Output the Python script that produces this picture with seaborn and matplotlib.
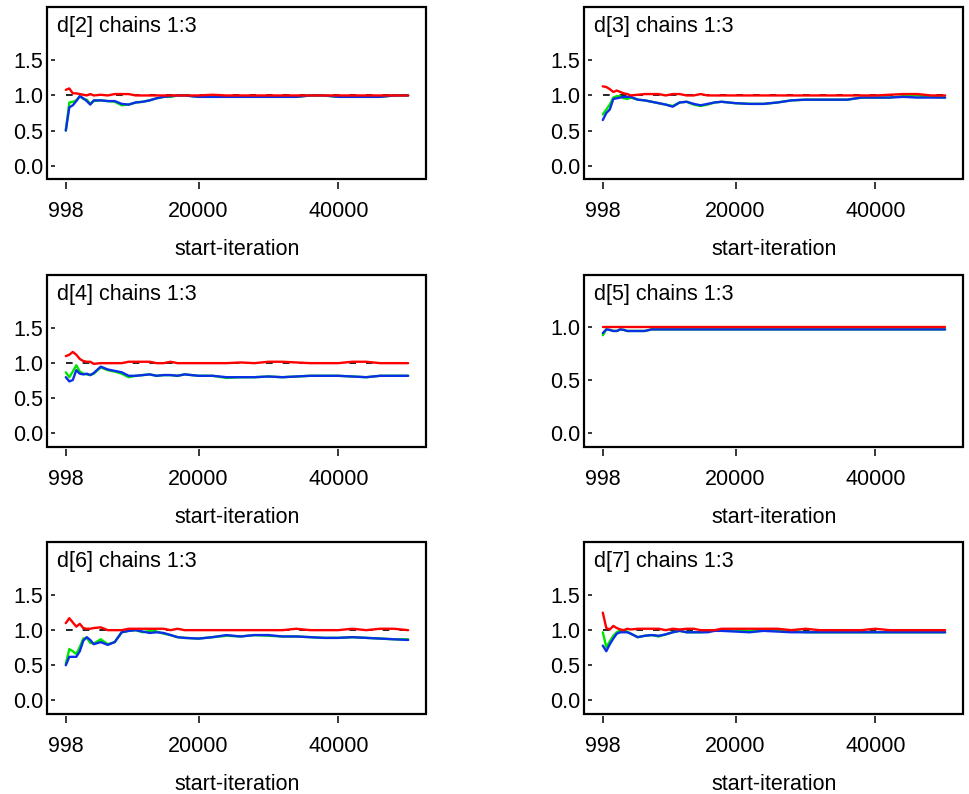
import matplotlib
matplotlib.use("Agg")
import matplotlib.pyplot as plt
import seaborn as sns
import pandas as pd

# ---------------- data ----------------
start_iteration = [998, 1500, 2000, 2500, 3000, 3500, 4000, 4500, 5000,
                   6000, 7000, 8000, 9000, 10000, 11000, 12000, 13000, 14000, 15000, 16000, 17000, 18000,
                   20000, 22000, 24000, 26000, 28000, 30000, 32000, 34000, 36000, 38000, 40000, 42000,
                   44000, 46000, 48000, 50000]

panel_titles = ["d[2] chains 1:3", "d[3] chains 1:3", "d[4] chains 1:3",
                "d[5] chains 1:3", "d[6] chains 1:3", "d[7] chains 1:3"]

x_tick_values = [998, 20000, 40000]
x_tick_labels = ["998", "20000", "40000"]
y_tick_values = [0.0, 0.5, 1.0, 1.5]
y_tick_labels = ["0.0", "0.5", "1.0", "1.5"]
y_tick_values_d5 = [0.0, 0.5, 1.0]
y_tick_labels_d5 = ["0.0", "0.5", "1.0"]

# d[2]
d2_red = [1.08, 1.10, 1.03, 1.03, 1.02, 1.01, 1.00, 1.02, 1.00,
          1.01, 1.00, 1.02, 1.02, 1.02, 1.00, 1.00, 1.00, 1.00, 1.00, 1.00, 1.00, 1.00,
          1.00, 1.01, 1.00, 1.00, 1.00, 1.00, 1.00, 1.00, 1.00, 1.00, 1.00, 1.00, 1.00, 1.00, 1.00, 1.00]
d2_green = [0.50, 0.90, 0.91, 0.93, 0.99, 0.95, 0.94, 0.88, 0.92,
            0.93, 0.92, 0.91, 0.86, 0.87, 0.90, 0.91, 0.93, 0.96, 0.98, 0.98, 1.00, 1.00,
            0.98, 0.98, 0.98, 0.98, 0.98, 0.98, 0.98, 0.98, 1.00, 1.00, 0.98, 0.98, 0.98, 0.98, 1.00, 1.00]
d2_blue = [0.50, 0.83, 0.86, 0.92, 0.99, 0.96, 0.92, 0.87, 0.93,
           0.93, 0.92, 0.92, 0.88, 0.87, 0.90, 0.91, 0.93, 0.96, 0.98, 0.99, 1.00, 1.00,
           0.98, 0.98, 0.98, 0.98, 0.98, 0.98, 0.98, 0.98, 1.00, 1.00, 0.98, 0.98, 0.98, 0.98, 1.00, 1.00]

# d[3]
d3_red = [1.13, 1.12, 1.09, 1.05, 1.07, 1.05, 1.03, 1.02, 1.00,
          1.01, 1.02, 1.02, 1.02, 1.00, 1.02, 1.02, 1.00, 1.00, 1.02, 1.00, 1.00, 1.00,
          1.00, 1.00, 1.00, 1.00, 1.00, 1.00, 1.00, 1.00, 1.00, 1.00, 1.00, 1.01, 1.02, 1.02, 1.00, 1.00]
d3_green = [0.73, 0.80, 0.87, 0.97, 0.99, 0.99, 0.96, 0.95, 0.97,
            0.94, 0.93, 0.91, 0.89, 0.87, 0.85, 0.90, 0.91, 0.87, 0.85, 0.87, 0.90, 0.91,
            0.89, 0.88, 0.88, 0.90, 0.93, 0.94, 0.94, 0.94, 0.94, 0.97, 0.97, 0.97, 0.99, 1.00, 0.98, 0.97]
d3_blue = [0.65, 0.75, 0.80, 0.95, 0.96, 0.97, 0.98, 0.98, 0.98,
           0.94, 0.93, 0.91, 0.89, 0.87, 0.84, 0.90, 0.91, 0.88, 0.86, 0.88, 0.90, 0.91,
           0.89, 0.88, 0.88, 0.90, 0.93, 0.94, 0.94, 0.94, 0.94, 0.97, 0.97, 0.97, 0.98, 0.97, 0.97, 0.97]

# d[4]
d4_red = [1.10, 1.12, 1.16, 1.12, 1.06, 1.03, 1.02, 1.02, 0.99,
          1.00, 1.00, 1.00, 1.00, 1.02, 1.02, 1.02, 1.02, 1.00, 1.00, 1.02, 1.00, 1.00,
          1.00, 1.00, 1.00, 1.01, 1.00, 1.02, 1.02, 1.01, 1.00, 1.00, 1.00, 1.02, 1.02, 1.00, 1.00, 1.00]
d4_green = [0.87, 0.80, 0.88, 0.97, 0.88, 0.85, 0.84, 0.83, 0.85,
            0.94, 0.90, 0.88, 0.85, 0.80, 0.82, 0.83, 0.84, 0.82, 0.83, 0.83, 0.82, 0.84,
            0.82, 0.82, 0.79, 0.80, 0.80, 0.81, 0.80, 0.81, 0.82, 0.82, 0.82, 0.81, 0.80, 0.82, 0.82, 0.82]
d4_blue = [0.80, 0.74, 0.76, 0.90, 0.85, 0.84, 0.85, 0.83, 0.86,
           0.95, 0.91, 0.89, 0.87, 0.82, 0.82, 0.83, 0.84, 0.82, 0.83, 0.83, 0.82, 0.84,
           0.82, 0.82, 0.80, 0.80, 0.80, 0.81, 0.80, 0.81, 0.82, 0.82, 0.82, 0.81, 0.80, 0.82, 0.82, 0.82]

# d[5]
d5_red = [1.00, 1.00, 1.00, 1.00, 1.00, 1.00, 1.00, 1.00, 1.00,
          1.00, 1.00, 1.00, 1.00, 1.00, 1.00, 1.00, 1.00, 1.00, 1.00, 1.00, 1.00, 1.00,
          1.00, 1.00, 1.00, 1.00, 1.00, 1.00, 1.00, 1.00, 1.00, 1.00, 1.00, 1.00, 1.00, 1.00, 1.00, 1.00]
d5_green = [0.92, 0.975, 0.97, 0.96, 0.96, 0.975, 0.97, 0.96, 0.96,
            0.96, 0.96, 0.975, 0.975, 0.975, 0.975, 0.975, 0.975, 0.975, 0.975, 0.975, 0.975, 0.975,
            0.975, 0.975, 0.975, 0.975, 0.975, 0.975, 0.975, 0.975, 0.975, 0.975, 0.975, 0.975, 0.975, 0.975, 0.975, 0.975]
d5_blue = [0.94, 0.975, 0.97, 0.96, 0.96, 0.975, 0.97, 0.96, 0.96,
           0.96, 0.96, 0.975, 0.975, 0.975, 0.975, 0.975, 0.975, 0.975, 0.975, 0.975, 0.975, 0.975,
           0.975, 0.975, 0.975, 0.975, 0.975, 0.975, 0.975, 0.975, 0.975, 0.975, 0.975, 0.975, 0.975, 0.975, 0.975, 0.975]

# d[6]
d6_red = [1.10, 1.17, 1.11, 1.05, 1.09, 1.03, 1.02, 1.02, 1.03,
          1.04, 1.00, 1.00, 1.00, 1.02, 1.02, 1.02, 1.02, 1.02, 1.02, 1.00, 1.02, 1.00,
          1.00, 1.00, 1.00, 1.00, 1.00, 1.00, 1.00, 1.02, 1.00, 1.00, 1.00, 1.02, 1.00, 1.02, 1.02, 1.00]
d6_green = [0.52, 0.73, 0.70, 0.66, 0.76, 0.88, 0.89, 0.82, 0.81,
            0.87, 0.80, 0.83, 0.97, 0.99, 1.00, 0.97, 0.99, 0.98, 0.95, 0.93, 0.90, 0.89,
            0.88, 0.90, 0.92, 0.91, 0.93, 0.92, 0.91, 0.91, 0.90, 0.89, 0.89, 0.90, 0.89, 0.88, 0.87, 0.87]
d6_blue = [0.50, 0.62, 0.62, 0.62, 0.70, 0.85, 0.90, 0.86, 0.80,
           0.83, 0.79, 0.83, 0.97, 0.99, 1.00, 0.98, 0.96, 0.97, 0.96, 0.93, 0.90, 0.89,
           0.88, 0.90, 0.93, 0.91, 0.93, 0.93, 0.91, 0.91, 0.90, 0.89, 0.89, 0.90, 0.89, 0.88, 0.87, 0.86]

# d[7]
d7_red = [1.25, 1.03, 1.01, 1.06, 1.03, 1.01, 1.00, 1.02, 1.01,
          1.02, 1.02, 1.02, 1.02, 1.00, 1.02, 1.01, 1.02, 1.02, 1.00, 1.00, 1.00, 1.02,
          1.02, 1.02, 1.02, 1.02, 1.00, 1.02, 1.00, 1.00, 1.00, 1.00, 1.02, 1.00, 1.00, 1.00, 1.00, 1.00]
d7_green = [0.97, 0.76, 0.84, 0.92, 0.97, 1.00, 0.99, 0.98, 0.95,
            0.90, 0.92, 0.93, 0.91, 0.94, 0.97, 0.99, 0.97, 0.97, 0.97, 0.98, 1.00, 1.00,
            1.00, 0.99, 1.00, 1.00, 0.99, 0.97, 0.97, 0.97, 0.97, 0.97, 0.97, 0.97, 0.97, 0.97, 0.97, 0.97]
d7_blue = [0.78, 0.70, 0.80, 0.88, 0.95, 0.97, 0.97, 0.97, 0.95,
           0.90, 0.92, 0.93, 0.92, 0.94, 0.97, 0.99, 0.97, 0.97, 0.97, 0.97, 0.99, 0.99,
           0.98, 0.97, 0.99, 0.98, 0.97, 0.97, 0.97, 0.97, 0.97, 0.97, 0.97, 0.97, 0.97, 0.97, 0.97, 0.97]

series_names = ["green", "blue", "red"]
series_colors = {"green": "#00e600", "blue": "#0a2fe6", "red": "#ff0000"}

panels = [
    (d2_green, d2_blue, d2_red),
    (d3_green, d3_blue, d3_red),
    (d4_green, d4_blue, d4_red),
    (d5_green, d5_blue, d5_red),
    (d6_green, d6_blue, d6_red),
    (d7_green, d7_blue, d7_red),
]

# ---------------- figure ----------------
sns.set_style("white")
plt.rcParams["font.family"] = ["Liberation Sans", "DejaVu Sans"]
plt.rcParams["text.color"] = "black"
plt.rcParams["axes.labelcolor"] = "black"
plt.rcParams["xtick.color"] = "black"
plt.rcParams["ytick.color"] = "black"

W, H = 969, 794
fig = plt.figure(figsize=(W / 100, H / 100), dpi=100)

col_left = [47.3, 584.3]
row_top = [7.0, 274.7, 541.7]
ax_w, ax_h = 379.0, 172.0

FS = 15.5
for i, (title, data) in enumerate(zip(panel_titles, panels)):
    r, c = divmod(i, 2)
    left = col_left[c] / W
    bottom = 1 - (row_top[r] + ax_h) / H
    ax = fig.add_axes([left, bottom, ax_w / W, ax_h / H])

    frames = []
    for name, vals in zip(series_names, data):
        frames.append(pd.DataFrame({"start-iteration": start_iteration,
                                    "value": vals, "series": name}))
    df = pd.concat(frames, ignore_index=True)

    ax.hlines(1.0, start_iteration[0], start_iteration[-1], colors="black",
              linestyles=(0, (4, 6)), linewidth=1.2, zorder=1)
    sns.lineplot(data=df, x="start-iteration", y="value", hue="series",
                 hue_order=series_names, palette=series_colors,
                 linewidth=1.7, legend=False, ax=ax, zorder=2)

    ax.set_xlim(-1650, 52600)
    if i == 3:
        ax.set_ylim(-0.13, 1.49)
        ax.set_yticks(y_tick_values_d5, y_tick_labels_d5)
    else:
        ax.set_ylim(-0.19, 2.26)
        ax.set_yticks(y_tick_values, y_tick_labels)
    ax.set_xticks(x_tick_values, x_tick_labels)

    # frame drawn by axes patch, spines used only to place ticks
    ax.patch.set_edgecolor("black")
    ax.patch.set_linewidth(1.6)
    for s in ["top", "right", "left", "bottom"]:
        ax.spines[s].set_color("none")
    ax.spines["left"].set_position(("outward", -5.5))
    ax.spines["bottom"].set_position(("outward", 2.0))

    ax.tick_params(axis="y", direction="out", length=3.1, width=1.1,
                   pad=5.3, labelsize=FS, colors="black", left=True)
    ax.tick_params(axis="x", direction="out", length=5.0, width=1.1,
                   pad=9.0, labelsize=FS, colors="black", bottom=True)

    ax.set_ylabel("")
    ax.set_xlabel("start-iteration", fontsize=FS, labelpad=12, color="black")
    ax.text(0.026, 0.855, title, transform=ax.transAxes, fontsize=FS,
            ha="left", va="baseline", color="black")

fig.savefig("out.png", dpi=100)
